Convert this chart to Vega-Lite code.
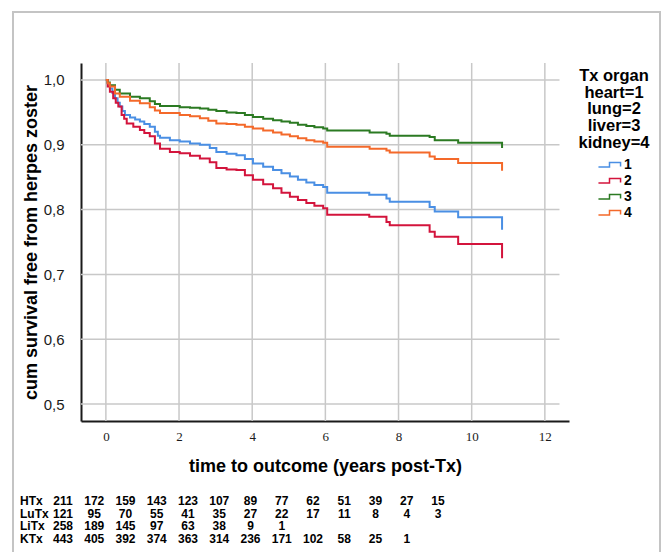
{
  "$schema": "https://vega.github.io/schema/vega-lite/v6.json",
  "width": 647,
  "height": 545,
  "autosize": {"type": "none"},
  "padding": {"left": 13, "top": 12, "right": 5, "bottom": 0},
  "background": "white",
  "config": {
    "view": {"stroke": "#c4c4c4", "strokeWidth": 2},
    "font": "Liberation Sans"
  },
  "datasets": {
    "km": [
      {"organ": "1", "t": 0, "S": 1}, {"organ": "1", "t": 0.05, "S": 0.995}, {"organ": "1", "t": 0.11, "S": 0.987}, {"organ": "1", "t": 0.18, "S": 0.98}, {"organ": "1", "t": 0.25, "S": 0.972}, {"organ": "1", "t": 0.32, "S": 0.965}, {"organ": "1", "t": 0.38, "S": 0.959}, {"organ": "1", "t": 0.45, "S": 0.952}, {"organ": "1", "t": 0.52, "S": 0.946}, {"organ": "1", "t": 0.66, "S": 0.942}, {"organ": "1", "t": 0.8, "S": 0.939}, {"organ": "1", "t": 0.93, "S": 0.936}, {"organ": "1", "t": 1.05, "S": 0.932}, {"organ": "1", "t": 1.2, "S": 0.928}, {"organ": "1", "t": 1.34, "S": 0.92}, {"organ": "1", "t": 1.42, "S": 0.914}, {"organ": "1", "t": 1.48, "S": 0.911}, {"organ": "1", "t": 1.75, "S": 0.907}, {"organ": "1", "t": 2.02, "S": 0.905}, {"organ": "1", "t": 2.3, "S": 0.902}, {"organ": "1", "t": 2.57, "S": 0.9}, {"organ": "1", "t": 2.84, "S": 0.895}, {"organ": "1", "t": 3.02, "S": 0.889}, {"organ": "1", "t": 3.3, "S": 0.886}, {"organ": "1", "t": 3.57, "S": 0.884}, {"organ": "1", "t": 3.8, "S": 0.878}, {"organ": "1", "t": 4.02, "S": 0.871}, {"organ": "1", "t": 4.3, "S": 0.866}, {"organ": "1", "t": 4.57, "S": 0.861}, {"organ": "1", "t": 4.8, "S": 0.856}, {"organ": "1", "t": 5.03, "S": 0.851}, {"organ": "1", "t": 5.25, "S": 0.846}, {"organ": "1", "t": 5.48, "S": 0.842}, {"organ": "1", "t": 5.7, "S": 0.838}, {"organ": "1", "t": 5.94, "S": 0.835}, {"organ": "1", "t": 6.05, "S": 0.826}, {"organ": "1", "t": 7.2, "S": 0.823}, {"organ": "1", "t": 7.67, "S": 0.817}, {"organ": "1", "t": 7.76, "S": 0.812}, {"organ": "1", "t": 8.85, "S": 0.804}, {"organ": "1", "t": 8.99, "S": 0.797}, {"organ": "1", "t": 9.63, "S": 0.788}, {"organ": "1", "t": 10.83, "S": 0.769},
      {"organ": "2", "t": 0, "S": 1}, {"organ": "2", "t": 0.05, "S": 0.99}, {"organ": "2", "t": 0.11, "S": 0.982}, {"organ": "2", "t": 0.2, "S": 0.972}, {"organ": "2", "t": 0.27, "S": 0.965}, {"organ": "2", "t": 0.34, "S": 0.959}, {"organ": "2", "t": 0.43, "S": 0.946}, {"organ": "2", "t": 0.5, "S": 0.94}, {"organ": "2", "t": 0.57, "S": 0.933}, {"organ": "2", "t": 0.75, "S": 0.928}, {"organ": "2", "t": 0.93, "S": 0.923}, {"organ": "2", "t": 1.05, "S": 0.918}, {"organ": "2", "t": 1.2, "S": 0.913}, {"organ": "2", "t": 1.34, "S": 0.902}, {"organ": "2", "t": 1.48, "S": 0.894}, {"organ": "2", "t": 1.75, "S": 0.889}, {"organ": "2", "t": 2.02, "S": 0.887}, {"organ": "2", "t": 2.3, "S": 0.883}, {"organ": "2", "t": 2.57, "S": 0.879}, {"organ": "2", "t": 2.84, "S": 0.873}, {"organ": "2", "t": 3.02, "S": 0.864}, {"organ": "2", "t": 3.3, "S": 0.862}, {"organ": "2", "t": 3.57, "S": 0.861}, {"organ": "2", "t": 3.8, "S": 0.853}, {"organ": "2", "t": 4.02, "S": 0.846}, {"organ": "2", "t": 4.3, "S": 0.839}, {"organ": "2", "t": 4.57, "S": 0.833}, {"organ": "2", "t": 4.8, "S": 0.826}, {"organ": "2", "t": 5.03, "S": 0.82}, {"organ": "2", "t": 5.25, "S": 0.815}, {"organ": "2", "t": 5.48, "S": 0.81}, {"organ": "2", "t": 5.7, "S": 0.806}, {"organ": "2", "t": 5.94, "S": 0.802}, {"organ": "2", "t": 6.05, "S": 0.792}, {"organ": "2", "t": 7.2, "S": 0.789}, {"organ": "2", "t": 7.67, "S": 0.781}, {"organ": "2", "t": 7.76, "S": 0.776}, {"organ": "2", "t": 8.85, "S": 0.766}, {"organ": "2", "t": 8.99, "S": 0.758}, {"organ": "2", "t": 9.63, "S": 0.747}, {"organ": "2", "t": 10.83, "S": 0.725},
      {"organ": "3", "t": 0, "S": 1}, {"organ": "3", "t": 0.05, "S": 0.996}, {"organ": "3", "t": 0.11, "S": 0.992}, {"organ": "3", "t": 0.25, "S": 0.985}, {"organ": "3", "t": 0.38, "S": 0.979}, {"organ": "3", "t": 0.66, "S": 0.974}, {"organ": "3", "t": 0.93, "S": 0.972}, {"organ": "3", "t": 1.2, "S": 0.967}, {"organ": "3", "t": 1.34, "S": 0.963}, {"organ": "3", "t": 1.48, "S": 0.96}, {"organ": "3", "t": 2.02, "S": 0.958}, {"organ": "3", "t": 2.3, "S": 0.957}, {"organ": "3", "t": 2.57, "S": 0.956}, {"organ": "3", "t": 2.8, "S": 0.954}, {"organ": "3", "t": 3.02, "S": 0.952}, {"organ": "3", "t": 3.3, "S": 0.95}, {"organ": "3", "t": 3.57, "S": 0.949}, {"organ": "3", "t": 3.8, "S": 0.946}, {"organ": "3", "t": 4.02, "S": 0.943}, {"organ": "3", "t": 4.3, "S": 0.94}, {"organ": "3", "t": 4.57, "S": 0.938}, {"organ": "3", "t": 4.8, "S": 0.936}, {"organ": "3", "t": 5.03, "S": 0.934}, {"organ": "3", "t": 5.25, "S": 0.931}, {"organ": "3", "t": 5.48, "S": 0.929}, {"organ": "3", "t": 5.7, "S": 0.927}, {"organ": "3", "t": 5.94, "S": 0.925}, {"organ": "3", "t": 6.05, "S": 0.922}, {"organ": "3", "t": 7.21, "S": 0.919}, {"organ": "3", "t": 7.67, "S": 0.917}, {"organ": "3", "t": 7.76, "S": 0.914}, {"organ": "3", "t": 8.85, "S": 0.912}, {"organ": "3", "t": 8.99, "S": 0.907}, {"organ": "3", "t": 9.63, "S": 0.903}, {"organ": "3", "t": 10.83, "S": 0.895},
      {"organ": "4", "t": 0, "S": 1}, {"organ": "4", "t": 0.05, "S": 0.995}, {"organ": "4", "t": 0.11, "S": 0.99}, {"organ": "4", "t": 0.25, "S": 0.979}, {"organ": "4", "t": 0.38, "S": 0.974}, {"organ": "4", "t": 0.66, "S": 0.968}, {"organ": "4", "t": 0.93, "S": 0.964}, {"organ": "4", "t": 1.2, "S": 0.958}, {"organ": "4", "t": 1.34, "S": 0.953}, {"organ": "4", "t": 1.48, "S": 0.949}, {"organ": "4", "t": 2.02, "S": 0.946}, {"organ": "4", "t": 2.3, "S": 0.944}, {"organ": "4", "t": 2.57, "S": 0.941}, {"organ": "4", "t": 2.8, "S": 0.937}, {"organ": "4", "t": 3.02, "S": 0.933}, {"organ": "4", "t": 3.3, "S": 0.932}, {"organ": "4", "t": 3.57, "S": 0.931}, {"organ": "4", "t": 3.8, "S": 0.928}, {"organ": "4", "t": 4.02, "S": 0.925}, {"organ": "4", "t": 4.3, "S": 0.922}, {"organ": "4", "t": 4.57, "S": 0.919}, {"organ": "4", "t": 4.8, "S": 0.916}, {"organ": "4", "t": 5.03, "S": 0.913}, {"organ": "4", "t": 5.25, "S": 0.91}, {"organ": "4", "t": 5.48, "S": 0.907}, {"organ": "4", "t": 5.7, "S": 0.905}, {"organ": "4", "t": 5.94, "S": 0.903}, {"organ": "4", "t": 6.05, "S": 0.897}, {"organ": "4", "t": 7.21, "S": 0.894}, {"organ": "4", "t": 7.67, "S": 0.891}, {"organ": "4", "t": 7.76, "S": 0.888}, {"organ": "4", "t": 8.85, "S": 0.882}, {"organ": "4", "t": 8.99, "S": 0.878}, {"organ": "4", "t": 9.63, "S": 0.872}, {"organ": "4", "t": 10.83, "S": 0.86}
    ],
    "xgrid": [{"v": 0}, {"v": 2}, {"v": 4}, {"v": 6}, {"v": 8}, {"v": 10}, {"v": 12}],
    "ygrid": [{"v": 0.5}, {"v": 0.6}, {"v": 0.7}, {"v": 0.8}, {"v": 0.9}, {"v": 1.0}],
    "rowlabels": [
      {"r": 0, "label": "HTx"}, {"r": 1, "label": "LuTx"}, {"r": 2, "label": "LiTx"}, {"r": 3, "label": "KTx"}
    ],
    "risk": [
      {"r": 0, "c": 0, "n": 211}, {"r": 0, "c": 1, "n": 172}, {"r": 0, "c": 2, "n": 159}, {"r": 0, "c": 3, "n": 143}, {"r": 0, "c": 4, "n": 123}, {"r": 0, "c": 5, "n": 107}, {"r": 0, "c": 6, "n": 89}, {"r": 0, "c": 7, "n": 77}, {"r": 0, "c": 8, "n": 62}, {"r": 0, "c": 9, "n": 51}, {"r": 0, "c": 10, "n": 39}, {"r": 0, "c": 11, "n": 27}, {"r": 0, "c": 12, "n": 15},
      {"r": 1, "c": 0, "n": 121}, {"r": 1, "c": 1, "n": 95}, {"r": 1, "c": 2, "n": 70}, {"r": 1, "c": 3, "n": 55}, {"r": 1, "c": 4, "n": 41}, {"r": 1, "c": 5, "n": 35}, {"r": 1, "c": 6, "n": 27}, {"r": 1, "c": 7, "n": 22}, {"r": 1, "c": 8, "n": 17}, {"r": 1, "c": 9, "n": 11}, {"r": 1, "c": 10, "n": 8}, {"r": 1, "c": 11, "n": 4}, {"r": 1, "c": 12, "n": 3},
      {"r": 2, "c": 0, "n": 258}, {"r": 2, "c": 1, "n": 189}, {"r": 2, "c": 2, "n": 145}, {"r": 2, "c": 3, "n": 97}, {"r": 2, "c": 4, "n": 63}, {"r": 2, "c": 5, "n": 38}, {"r": 2, "c": 6, "n": 9}, {"r": 2, "c": 7, "n": 1},
      {"r": 3, "c": 0, "n": 443}, {"r": 3, "c": 1, "n": 405}, {"r": 3, "c": 2, "n": 392}, {"r": 3, "c": 3, "n": 374}, {"r": 3, "c": 4, "n": 363}, {"r": 3, "c": 5, "n": 314}, {"r": 3, "c": 6, "n": 236}, {"r": 3, "c": 7, "n": 171}, {"r": 3, "c": 8, "n": 102}, {"r": 3, "c": 9, "n": 58}, {"r": 3, "c": 10, "n": 25}, {"r": 3, "c": 11, "n": 1}
    ]
  },
  "layer": [
    {
      "data": {"name": "xgrid"},
      "mark": {"type": "rule", "color": "#c8c8c8", "strokeWidth": 1.5},
      "encoding": {
        "x": {"field": "v", "type": "quantitative", "scale": {"domain": [-0.68, 12.66], "range": [68, 556], "nice": false, "zero": false}, "axis": null},
        "y": {"datum": 0.4738, "type": "quantitative", "scale": {"domain": [0.4738, 1.0262], "range": [409, 51], "nice": false, "zero": false}, "axis": null},
        "y2": {"datum": 1.0262}
      }
    },
    {
      "data": {"name": "ygrid"},
      "mark": {"type": "rule", "color": "#c8c8c8", "strokeWidth": 1.5},
      "encoding": {
        "y": {"field": "v", "type": "quantitative", "scale": {"domain": [0.4738, 1.0262], "range": [409, 51], "nice": false, "zero": false}, "axis": null},
        "x": {"datum": -0.68, "type": "quantitative", "scale": {"domain": [-0.68, 12.66], "range": [68, 556], "nice": false, "zero": false}, "axis": null},
        "x2": {"datum": 12.4}
      }
    },
    {
      "data": {"name": "km"},
      "mark": {"type": "line", "interpolate": "step-after", "strokeWidth": 2},
      "encoding": {
        "x": {
          "field": "t", "type": "quantitative",
          "scale": {"domain": [-0.68, 12.66], "range": [68, 556], "nice": false, "zero": false},
          "axis": {
            "values": [0, 2, 4, 6, 8, 10, 12], "grid": false,
            "ticks": false, "domainColor": "#1a1a1a", "domainWidth": 2,
            "labelFont": "Liberation Serif", "labelFontSize": 13, "labelColor": "#1a1a1a", "labelPadding": 9,
            "title": "time to outcome (years post-Tx)", "titleFont": "Liberation Sans", "titleFontSize": 18,
            "titleFontWeight": "bold", "titleColor": "#000", "titlePadding": 14, "offset": -136
          }
        },
        "y": {
          "field": "S", "type": "quantitative",
          "scale": {"domain": [0.4738, 1.0262], "range": [409, 51], "nice": false, "zero": false},
          "axis": {
            "values": [0.5, 0.6, 0.7, 0.8, 0.9, 1.0], "grid": false,
            "ticks": false, "domainColor": "#1a1a1a", "domainWidth": 2,
            "labelExpr": "replace(format(datum.value, '.1f'), '.', ',')",
            "labelFont": "Liberation Sans", "labelFontSize": 15, "labelColor": "#1a1a1a", "labelPadding": 17,
            "title": "cum survival free from herpes zoster", "titleFont": "Liberation Sans", "titleFontSize": 18,
            "titleFontWeight": "bold", "titleColor": "#000", "titlePadding": 3, "offset": -68
          }
        },
        "color": {
          "field": "organ", "type": "nominal",
          "scale": {"domain": ["1", "2", "3", "4"], "range": ["#4a8fe4", "#d3143c", "#2b7a22", "#f4692a"]},
          "legend": {
            "orient": "none", "legendX": 565, "legendY": 56,
            "title": ["Tx organ", "heart=1", "lung=2", "liver=3", "kidney=4"],
            "titleFont": "Liberation Sans", "titleFontSize": 16.5, "titleFontWeight": "bold", "titleColor": "#000",
            "titleLineHeight": 16.7, "titleAlign": "center", "titleAnchor": "middle", "titlePadding": 6,
            "symbolType": "M -1.7 0.35 L 0 0.35 L 0 -0.35 L 1.7 -0.35 L 1.7 0.25",
            "symbolSize": 169, "symbolStrokeWidth": 1.5, "symbolOffset": 5,
            "labelFont": "Liberation Sans", "labelFontSize": 14, "labelFontWeight": "bold", "labelColor": "#000",
            "labelOffset": 7, "rowPadding": 1
          }
        }
      }
    },
    {
      "data": {"name": "rowlabels"},
      "mark": {"type": "text", "align": "left", "baseline": "middle", "font": "Liberation Sans", "fontSize": 12, "fontWeight": "bold", "color": "#000"},
      "encoding": {
        "x": {"datum": 0, "type": "quantitative", "scale": {"domain": [0, 1], "range": [7, 8]}, "axis": null},
        "y": {"field": "r", "type": "quantitative", "scale": {"domain": [0, 3], "range": [489, 527]}, "axis": null},
        "text": {"field": "label"}
      }
    },
    {
      "data": {"name": "risk"},
      "mark": {"type": "text", "align": "center", "baseline": "middle", "font": "Liberation Sans", "fontSize": 12, "fontWeight": "bold", "color": "#000"},
      "encoding": {
        "x": {"field": "c", "type": "quantitative", "scale": {"domain": [0, 12], "range": [50, 425]}, "axis": null},
        "y": {"field": "r", "type": "quantitative", "scale": {"domain": [0, 3], "range": [489, 527]}, "axis": null},
        "text": {"field": "n"}
      }
    }
  ],
  "resolve": {"scale": {"x": "independent", "y": "independent"}}
}
